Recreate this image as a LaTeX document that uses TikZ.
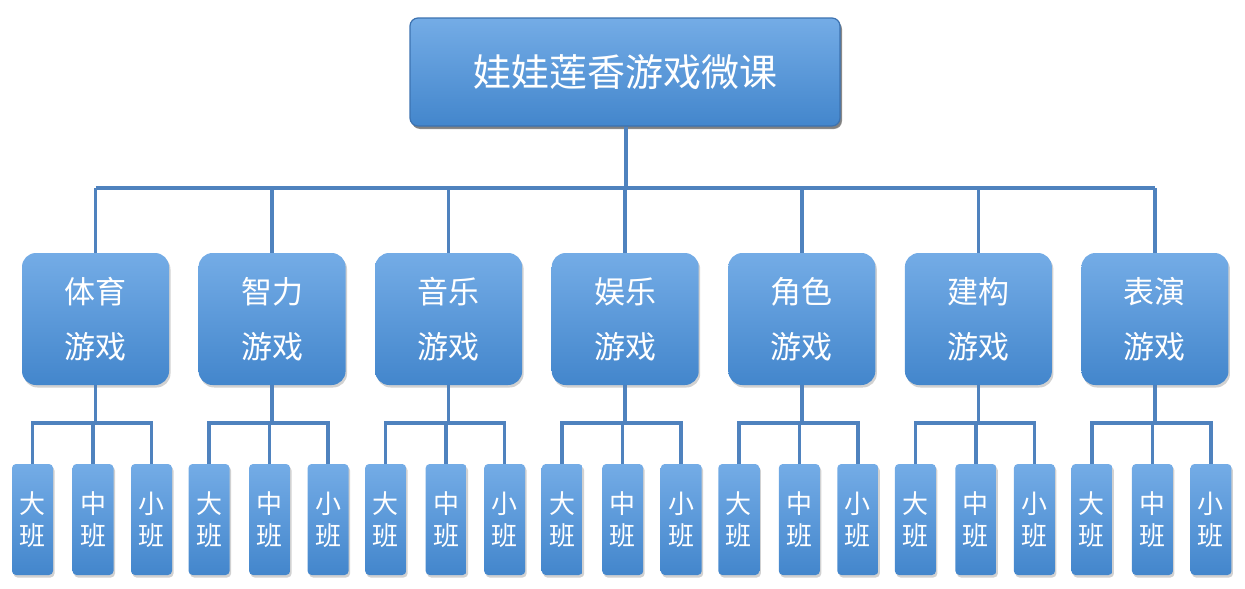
\documentclass[tikz,border=0pt]{standalone}
\usepackage{fontspec}
\newfontfamily\cjk{Noto Sans CJK SC}
\usetikzlibrary{shadows}
\definecolor{lineblue}{HTML}{4F82BE}
\definecolor{boxtop}{HTML}{74ACE6}
\definecolor{boxbot}{HTML}{4386CC}
\definecolor{boxedge}{HTML}{3C72B0}
\tikzset{
  conn/.style={draw=lineblue, line width=3.5pt},
  boxbase/.style={inner sep=0pt, text=white, align=center, top color=boxtop, bottom color=boxbot,
    drop shadow={shadow xshift=1.5pt, shadow yshift=-2.5pt, opacity=0.3, fill=black!60}},
  topbox/.style={boxbase, rounded corners=8pt, draw=boxedge, line width=1.2pt,
    minimum width=430pt, minimum height=108pt, font=\cjk\fontsize{38}{40}\selectfont,
    drop shadow={shadow xshift=2pt, shadow yshift=-3pt, opacity=0.5, fill=black!80}},
  midbox/.style={boxbase, rounded corners=14pt, minimum width=147pt, minimum height=132pt,
    font=\cjk\fontsize{31}{55}\selectfont},
  smallbox/.style={boxbase, rounded corners=4pt, minimum width=41pt, minimum height=111pt,
    font=\cjk\fontsize{26}{32}\selectfont}
}
\begin{document}
\begin{tikzpicture}[x=1pt,y=-1pt]
\useasboundingbox (0,0) rectangle (1245,589);
\node[topbox] (top) at (625,72) {娃娃莲香游戏微课};
\coordinate (bus) at (626,188);
\draw[conn] (top.south -| bus) -- (bus);
\foreach \i/\a/\b in {1/体育/游戏,2/智力/游戏,3/音乐/游戏,4/娱乐/游戏,5/角色/游戏,6/建构/游戏,7/表演/游戏}{
  \pgfmathsetmacro{\cx}{95.5+176.58*(\i-1)}
  \node[midbox] (m\i) at (\cx,319) {\a\\\b};
  \node[smallbox] (s\i a) at (\cx-63,519.5) {大\\班};
  \node[smallbox] (s\i b) at (\cx-2.5,519.5) {中\\班};
  \node[smallbox] (s\i c) at (\cx+56,519.5) {小\\班};
  \coordinate (sb\i) at (\cx,423);
  \draw[conn] (m\i.north) -- (m\i.north |- bus);
  \draw[conn] (m\i.south) -- (sb\i);
  \draw[conn] (s\i a.north) |- (sb\i) -| (s\i c.north);
  \draw[conn] (s\i b.north) -- (s\i b.north |- sb\i);
}
\draw[conn] (m1.north |- bus) -- (m7.north |- bus);
\end{tikzpicture}
\end{document}
